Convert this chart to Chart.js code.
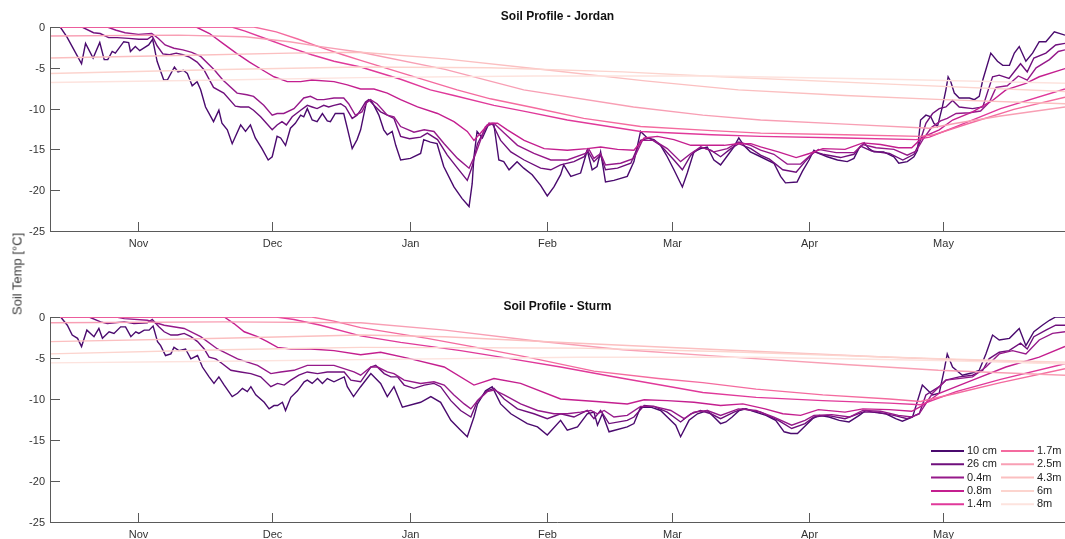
<!DOCTYPE html>
<html>
<head>
<meta charset="utf-8">
<script src="https://cdn.jsdelivr.net/npm/chart.js@4"></script>
<style>
  html, body { margin: 0; padding: 0; background: #fff; }
  #wrap { position: relative; width: 1065px; height: 539px; overflow: hidden; }
  canvas { position: absolute; left: 0; }
  #ylabel {
    position: absolute; left: 17px; top: 274px;
    transform: translate(-50%, -50%) rotate(-90deg);
    font: normal 13px "Liberation Sans", Arial, sans-serif; color: #3a3a3a; white-space: nowrap;
  }
</style>
</head>
<body>
<div id="wrap">
  <canvas id="top" width="1065" height="270" style="top:0"></canvas>
  <canvas id="bottom" width="1065" height="269" style="top:270px"></canvas>
  <div id="ylabel">Soil Temp [°C]</div>
</div>
<script>
// x values are days counted from 1 October (Nov 1 = 31)
const xMin = 11.1, xMax = 239.5;
const monthDays = [31, 61, 92, 123, 151, 182, 212];
const monthLabels = ['Nov', 'Dec', 'Jan', 'Feb', 'Mar', 'Apr', 'May'];
const yTicks = [0, -5, -10, -15, -20, -25];
const depths = ['10 cm', '26 cm', '0.4m', '0.8m', '1.4m', '1.7m', '2.5m', '4.3m', '6m', '8m'];
const colors = ['#4a0a6e', '#6f0f7c', '#96198a', '#c41f8f', '#e0399a', '#f46b9f', '#f89fb4', '#fbbfc0', '#fcd4ce', '#fde3de'];

// ---- Jordan ----
const jordan10cm = [[11.1,0],[13.4,0],[14.9,-1.2],[16.1,-2.4],[18.2,-4.5],[19.1,-2],[20.8,-3.8],[22.3,-1.9],[23.3,-4],[24.1,-4],[25.1,-3],[25.8,-3.2],[27.7,-1.8],[28.8,-1.9],[29.2,-3],[30.3,-2.4],[31.3,-2.9],[33.3,-2.2],[34.2,-1.5],[35.2,-4.2],[36.7,-6.5],[37.5,-6.5],[39.1,-4.9],[39.9,-5.5],[41.1,-5.3],[42,-5.7],[43.1,-7.2],[44.2,-6.7],[45,-7.7],[46.1,-9.8],[47.9,-11.6],[49.1,-10.2],[49.8,-11.8],[51,-12.6],[52.1,-14.3],[54,-12],[55.1,-12.8],[56.2,-12],[57.3,-13.6],[58.8,-14.9],[60.2,-16.3],[61.1,-15.9],[62.2,-13.4],[63,-13.6],[64.1,-14.5],[65.2,-12.4],[66.3,-11.8],[67.5,-10.8],[68.2,-11],[69,-10],[70.1,-11.4],[71.2,-11.6],[72.4,-10.6],[73.5,-11.5],[74.2,-11.6],[75.3,-10.6],[77.2,-10.6],[78,-12.4],[79.1,-14.9],[80.2,-13.8],[81,-12.6],[82.3,-9.2],[83.2,-8.9],[84,-9.6],[85.1,-10.8],[86.2,-12.6],[87,-13.2],[88.1,-12.8],[88.9,-14.5],[90,-16.3],[92.2,-16.1],[94.5,-15.5],[95.2,-13.8],[96.7,-14.1],[98.2,-14.3],[99.7,-17.1],[102,-19.6],[103.8,-21],[105.4,-22],[106.1,-19.2],[106.5,-15.9],[107.2,-12.8],[108.4,-13.6],[109.9,-11.8],[111,-12],[112.1,-16.3],[113.2,-16.5],[114.4,-17.5],[116.2,-16.5],[117.7,-17.3],[119.6,-18.1],[121.5,-19.4],[123,-20.7],[124.5,-19.6],[126,-18.1],[126.7,-16.9],[128.3,-18.3],[130.5,-17.9],[132,-15.1],[133.1,-17.5],[134.2,-17.1],[135,-15.3],[136.1,-19],[138,-18.8],[141,-18.3],[142.5,-16.5],[144,-12.8],[145.5,-13.6],[147,-13.8],[148.5,-14.5],[150,-15.9],[151.5,-17.5],[153.4,-19.6],[154.5,-17.9],[156,-15.3],[157.5,-14.9],[159,-14.7],[160.5,-16.3],[162,-16.9],[163.9,-15.5],[165,-14.7],[166.1,-13.6],[167.2,-14.5],[168.7,-15.3],[171,-15.9],[174,-16.7],[175.5,-18.3],[176.6,-19.1],[179.2,-19],[180.4,-17.7],[181.9,-16.3],[183,-15.1],[184.1,-15.5],[186,-15.9],[188.3,-16.3],[190.5,-16.5],[192,-16.1],[193.1,-14.9],[194.3,-14.2],[195.4,-14.9],[196.5,-15.3],[198.7,-15.3],[201,-15.9],[202.1,-16.7],[204,-16.5],[205.5,-15.9],[206.3,-15.1],[207,-11.4],[208.2,-10.8],[209.3,-11],[210,-11.8],[210.8,-12.2],[211.9,-9.8],[212.7,-7.7],[213.2,-6.1],[213.8,-6.7],[214.6,-8.1],[215.7,-8.7],[218,-8.7],[219.1,-8.9],[220.2,-8.5],[221,-6.5],[222.8,-3.2],[224.3,-4.2],[225.5,-4.7],[227,-4.7],[228.1,-3.2],[229.2,-2.4],[230.7,-4.2],[232.2,-3.2],[233.7,-1.8],[235.2,-1.8],[237.1,-0.6],[239.5,-1]];
const jordan26cm = [[11.1,0],[18.3,0],[20.9,-0.7],[22.4,-0.8],[24.3,-1.3],[26.2,-1.3],[28.8,-1.4],[31.1,-1.5],[33,-1.5],[34.1,-1.1],[35.2,-2.3],[36.5,-3.3],[38,-3.4],[39.5,-3.2],[41,-3.4],[42.5,-3.7],[44.2,-4.3],[45.7,-5.2],[47.9,-7.4],[50.2,-8.1],[52.8,-9.7],[54,-9.8],[55.8,-9.8],[56.9,-10.2],[58.5,-11],[61.1,-12.6],[62.2,-12],[63.3,-11.6],[64.3,-12],[65.6,-11],[67.5,-10.2],[69,-9.6],[70.1,-9.8],[71.2,-10],[72.7,-9.6],[73.8,-9.8],[75,-9.6],[76.5,-9.4],[77.6,-9.8],[79.1,-11.2],[80.2,-10.8],[81,-10.2],[82.1,-9.2],[82.8,-8.9],[84,-9.6],[85.5,-10.4],[87,-10.8],[88.5,-11.2],[90,-13.4],[92,-13.7],[94.5,-13.5],[96,-13],[98.3,-13.8],[100.5,-15.7],[102.8,-17.3],[105,-18.8],[106.1,-17.1],[107.3,-14.3],[109.5,-12],[110.6,-11.8],[112.5,-13.9],[114.8,-15.3],[117.8,-16.3],[121.5,-17.3],[123.8,-17.5],[126,-16.9],[129,-16.5],[131.3,-15.9],[132,-15.1],[133.5,-16.5],[135,-15.7],[136.1,-17.5],[138.8,-17.3],[141.8,-16.7],[144,-13.9],[145.9,-13.6],[148.5,-14.5],[151.5,-16.3],[153.4,-17.5],[155.3,-15.7],[157.5,-14.7],[159.8,-15.1],[162,-15.9],[164.3,-14.9],[166.1,-14.3],[168.8,-14.9],[171,-15.7],[173,-16.2],[176,-17.5],[179,-17.8],[181,-16.5],[183,-15.3],[185,-15.6],[189,-16],[192,-15.6],[193.5,-14.6],[196,-15.2],[200,-15.5],[203,-16.3],[205.5,-15.6],[206.7,-14.3],[208.2,-11.8],[209.7,-10.6],[211.2,-10],[212.7,-9.8],[214.2,-9],[215.7,-9.8],[218.7,-10],[221,-9.8],[222,-8.1],[223.2,-6.1],[224.7,-5.9],[226.9,-6.3],[229.5,-4.5],[231,-5.5],[232.5,-3.8],[235.2,-3.2],[237.4,-2.2],[239.5,-2]];
const jordan04m = [[11.1,0],[24,0],[26,-0.4],[28,-0.7],[31,-0.9],[34,-0.8],[35.5,-1.4],[37,-2.2],[39,-2.6],[41,-2.8],[43,-3.1],[45,-3.6],[48,-5.2],[50,-6.5],[53.2,-8.1],[55.4,-8.3],[56.9,-8.5],[59.2,-9.6],[61.1,-10.8],[62.2,-10.6],[63.7,-10.6],[66,-10],[68.2,-8.7],[69.7,-8.5],[71.2,-8.9],[72.7,-8.9],[75,-8.7],[77.2,-8.7],[78.3,-9.4],[79.8,-10.8],[81.3,-10.4],[82.3,-9.3],[83.2,-8.9],[84.7,-9.4],[87,-10.8],[88.5,-11],[90,-12.2],[93,-12.9],[95.3,-12.6],[97.5,-12.8],[99.8,-14.3],[102.8,-16.1],[105.4,-17.3],[106.9,-15.5],[109.1,-12.2],[111,-11.8],[113.3,-13],[116.3,-14.5],[120,-15.5],[123.8,-16.3],[127.5,-16.3],[131.6,-15.5],[132.4,-15],[133.5,-16.1],[135,-15.5],[136.1,-16.9],[139.5,-16.7],[142.5,-16.1],[144.4,-13.9],[147,-13.9],[150,-14.9],[153,-16.5],[155.3,-15.5],[157.5,-14.7],[160.5,-15.3],[163.5,-14.9],[166.1,-14.1],[168.8,-14.5],[171,-15.1],[174,-15.6],[177,-16.8],[180,-16.8],[182,-15.8],[184,-15],[188,-15.4],[192,-15.4],[194,-14.4],[197,-14.8],[201,-15],[204,-15.7],[206,-15.2],[207.5,-13.8],[209.5,-12.3],[211.5,-11.5],[213,-11.2],[215,-10.6],[218,-10.5],[220.5,-10.3],[222.5,-9.2],[224,-7.4],[226.5,-7.2],[229,-6],[231,-6.5],[233,-5],[236,-4],[238,-3],[239.5,-2.8]];
const jordan08m = [[11.1,0],[44,0],[47,-0.8],[50,-2],[53,-3.2],[56,-4.3],[59,-5.3],[61.5,-6.1],[64.5,-6.7],[67.5,-6.7],[70,-6.5],[75,-6.7],[78,-7.1],[81,-7.6],[84,-7.6],[87,-8.1],[90,-8.9],[93.8,-9.8],[98.3,-10.6],[102,-11.6],[105,-12.8],[106.5,-13.9],[108,-13],[109.9,-11.8],[111.8,-11.8],[114,-12.6],[117.8,-13.9],[122.3,-14.9],[127.5,-15.1],[132,-14.9],[135,-14.7],[138.8,-15],[142.5,-15.1],[144.8,-13.6],[147.8,-13.4],[151.5,-13.8],[155.3,-14.5],[159,-14.5],[162.8,-14.5],[165.8,-14.3],[168.8,-14.3],[171,-14.7],[175,-15.3],[179,-16],[182,-15.5],[185,-14.9],[190,-15],[194,-14.2],[198,-14.4],[202,-14.8],[205,-14.8],[207.5,-13.5],[211.2,-12.6],[214.2,-11.4],[218.7,-10.4],[223.2,-9],[226.2,-7.7],[230.7,-6.9],[233.7,-6.1],[239.5,-5.1]];
const jordan14m = [[11.1,0],[52,0],[55,-0.5],[60,-1.5],[65,-2.5],[70,-3.4],[75,-4.2],[81,-4.9],[90,-6.4],[96.7,-7.7],[102,-8.4],[111,-9.6],[118.5,-10.4],[127.5,-11.4],[144,-12.8],[160,-13.2],[171,-13.4],[190,-13.6],[206,-13.8],[209,-13.5],[215,-12.2],[225,-10],[239.5,-7.6]];
const jordan17m = [[11.1,0],[57,0],[62,-0.6],[67,-1.5],[72,-2.5],[77,-3.4],[81,-4.1],[90,-5.6],[102.7,-7.7],[110.2,-8.8],[120,-9.9],[131.2,-11.2],[144,-12.2],[160,-12.7],[171,-13],[190,-13.2],[207,-13.4],[210,-13.2],[218,-11.8],[228,-10.1],[239.5,-8.6]];
const jordan25m = [[11.1,-1.1],[40,-1],[55,-1.2],[65,-1.8],[72,-2.4],[81,-3.1],[100,-5.2],[117.7,-7.7],[142.4,-9.8],[158,-10.8],[171,-11.4],[190,-11.9],[209,-12.4],[215,-11.8],[225,-10.9],[239.5,-9.8]];
const jordan43m = [[11.1,-3.8],[40,-3.5],[65,-3.2],[81,-3.1],[100,-3.9],[122,-5.2],[145,-6.6],[166,-7.7],[190,-8.4],[212,-8.9],[239.5,-9.4]];
const jordan6m = [[11.1,-5.7],[50,-5.2],[81,-4.9],[110,-5],[140,-5.5],[162,-6.1],[200,-7],[239.5,-7.9]];
const jordan8m = [[11.1,-6.8],[50,-6.5],[81,-6.2],[120,-6],[160,-6],[200,-6.4],[239.5,-6.9]];

// ---- Sturm ----
const sturm10cm = [[11.1,0],[13.5,0],[15,-1],[16.1,-2.2],[17.3,-2.6],[18.2,-3.6],[19.4,-1.6],[21,-2.4],[22.1,-1.4],[22.9,-2.6],[24.4,-1.8],[25.5,-2],[27,-1.2],[28.1,-1.2],[29.3,-2.4],[30.4,-1.8],[31.1,-2],[32.3,-1.6],[33.4,-1.6],[34.3,-1.1],[35.3,-3],[36,-3.5],[37.1,-4.7],[38.3,-4.5],[39,-3.7],[40.1,-4.1],[41.6,-3.9],[42.8,-5.1],[44.3,-4.7],[45.4,-6.1],[46.9,-7.3],[48,-8.1],[49.1,-7.3],[50.3,-8.3],[52.1,-9.7],[53.3,-9.3],[54.4,-8.7],[55.5,-9.1],[56.3,-8.5],[57.4,-9.5],[59.3,-10.4],[60.4,-11.2],[61.5,-10.8],[62.3,-10.8],[63.4,-10.4],[64.1,-11.4],[65.3,-9.8],[66.8,-9],[68.3,-7.9],[69,-7.7],[70.1,-8.1],[71.3,-7.5],[72.4,-8.1],[73.5,-7.5],[75,-7.9],[77.3,-7.3],[78,-8.5],[79.4,-9.7],[81,-8.5],[83.3,-6.9],[85.5,-8.1],[87,-9.7],[88.5,-8.5],[90.4,-11],[94.5,-10.4],[96.8,-9.7],[99,-10.4],[101.3,-12.6],[103.5,-13.8],[105,-14.6],[106.5,-12.2],[107.3,-10.6],[109.1,-9],[110.6,-8.5],[112.5,-10.6],[114.8,-11.8],[118.5,-13],[120.8,-13.4],[123,-14.4],[126,-12.6],[127.5,-13.8],[129.8,-13.4],[132,-11.8],[133.5,-11.6],[134.3,-13.2],[135.4,-11.8],[136.9,-14],[141,-13.4],[142.5,-13],[144,-11],[146.3,-11],[148.5,-11.4],[150,-12.2],[151.9,-13.2],[153,-14.6],[154.9,-12.6],[156.8,-11.8],[159,-11.4],[160.5,-12.2],[162,-13],[163.2,-12.8],[164.6,-12.2],[166.2,-11.4],[167.7,-11.2],[169.9,-11.6],[172.2,-12],[174.4,-12.6],[176.3,-14],[177.8,-14.2],[179.3,-14.2],[181.2,-13.2],[182.7,-12.4],[184.2,-12],[186.4,-12.2],[188.7,-12.6],[190.9,-12.8],[193.2,-12],[194.7,-11.4],[196.2,-11.6],[199.2,-11.8],[201.4,-12.4],[202.9,-12.7],[205.2,-12.2],[207.4,-8.3],[209.7,-9.5],[211.2,-9.3],[212.3,-6.5],[213,-4.5],[214.2,-6.1],[216.4,-7.1],[218.7,-6.8],[220.2,-6.5],[221.7,-4.5],[223.2,-2.2],[224.7,-2.8],[227,-2.6],[229.2,-1.4],[230.7,-3.5],[232.5,-1.8],[234.4,-1],[236,-0.4],[237.4,0],[239.5,0]];
const sturm26cm = [[11.1,0],[19.9,0],[22.5,-0.6],[24,-0.8],[27.8,-0.6],[30,-0.8],[33,-0.7],[34.1,-0.3],[35.6,-1.2],[36.8,-1.8],[38.3,-2.2],[39.8,-2.2],[41.3,-2],[42.8,-2.4],[44.3,-3],[45.8,-3.9],[46.9,-4.9],[48.4,-5.1],[49.9,-5.7],[51.8,-6.5],[54,-6.7],[56.3,-6.9],[58.5,-7.3],[60.8,-8.5],[62.3,-8.1],[63.8,-8.3],[65.3,-7.7],[67.1,-7.1],[69,-6.7],[71.3,-6.9],[73.5,-6.7],[77.3,-6.7],[78.8,-7.7],[81,-7.9],[83.3,-6.1],[84.4,-5.9],[86.3,-6.9],[87.8,-7.3],[89.3,-7.3],[90.8,-8.3],[93,-8.7],[95.3,-8.3],[97.5,-8.1],[99,-8.5],[101.3,-10.2],[103.5,-11.4],[105.8,-12.2],[107.3,-10.2],[109.5,-9],[111,-8.7],[113.3,-10],[116.3,-11.2],[120,-11.8],[123,-12.4],[126,-11.8],[129,-12.2],[132,-11.4],[133.5,-12.4],[135,-11.4],[136.9,-13],[141,-12.6],[142.5,-12.2],[144.8,-10.8],[147,-10.9],[150,-11.6],[153,-12.8],[155.3,-11.8],[157.5,-11.4],[159.8,-11.8],[162,-12.4],[165,-11.6],[167,-11.2],[171,-11.6],[175,-12.6],[178,-13.6],[181,-13],[183,-12.2],[186,-12],[190,-12.4],[194,-11.6],[197,-11.6],[201,-12],[204,-12.4],[206.7,-11.8],[208.2,-9.5],[211.2,-8.5],[212.7,-7.7],[215.7,-7.3],[218.7,-7.1],[221,-6.5],[222.4,-5.1],[224.7,-4.3],[226.9,-4.1],[229.5,-3.2],[231,-3.9],[232.5,-2.4],[235.2,-1.6],[237.4,-1],[239.5,-1]];
const sturm04m = [[11.1,0],[26,0],[27.8,-0.2],[33,-0.4],[36.8,-1],[41.3,-1.4],[45,-2.4],[48.8,-3.9],[53.3,-5.1],[57.8,-5.9],[60.8,-6.9],[63,-6.7],[66,-6.5],[69,-5.9],[75,-5.9],[79.5,-6.7],[81,-7.1],[83.3,-6.1],[84.8,-6.1],[87,-6.7],[88.5,-6.9],[90.8,-7.7],[94.5,-8.1],[97.5,-7.9],[99.8,-8.3],[102,-9.5],[104.3,-10.6],[105.8,-11.2],[107.3,-10.2],[109.5,-9.1],[111,-8.9],[113.3,-9.5],[117,-10.6],[120.8,-11.4],[124.5,-11.8],[127.5,-11.8],[130.5,-11.6],[132.8,-11.4],[134.3,-11.8],[135.8,-11.4],[138,-12.2],[141,-12],[144,-10.9],[147,-10.9],[150.8,-11.4],[153.8,-12.4],[156,-11.6],[159,-11.4],[162,-12],[166,-11.2],[170,-11.4],[174,-12.2],[178,-13.2],[181,-12.6],[183,-12],[187,-11.9],[191,-12.2],[194,-11.4],[198,-11.5],[202,-12],[205,-12.2],[206.7,-11.8],[209.7,-9.3],[212.7,-7.7],[218.7,-7.3],[221.7,-6.1],[224.7,-4.5],[227.7,-4.1],[230.7,-4.5],[233.7,-2.8],[236.7,-2],[239.5,-1.8]];
const sturm08m = [[11.1,0],[50.3,0],[52.5,-0.8],[54.8,-1.8],[57.8,-2.4],[60,-3],[62.3,-3.7],[65.3,-3.9],[69.8,-3.9],[75,-4.1],[81,-4.6],[85.5,-4.3],[92.3,-5.1],[99.8,-6.1],[106.5,-8.3],[111,-7.5],[117,-8.1],[126,-10],[134,-10.3],[141,-10.6],[144.8,-10.1],[150,-10.2],[156,-10.4],[162,-10.8],[167,-10.6],[172,-11.2],[176,-11.8],[180,-12],[184,-11.3],[190,-11.6],[194,-11.2],[200,-11.3],[205,-11.5],[207.4,-10.8],[211.2,-9.3],[218.7,-7.7],[226.2,-6.1],[233.7,-4.9],[239.5,-3.6]];
const sturm14m = [[11.1,0],[62,0],[66,-0.3],[72,-1],[81,-2.3],[90,-3.1],[103.5,-4.1],[115,-5.1],[126,-6.1],[137,-7.2],[148.5,-8.3],[158,-9.2],[170,-9.8],[185,-10.2],[200,-10.5],[207,-10.7],[215,-9.1],[225,-7.6],[239.5,-5.7]];
const sturm17m = [[11.1,0],[70,0],[75,-0.5],[81,-1.3],[96,-2.6],[107,-3.7],[118.5,-4.9],[133.5,-6.6],[148,-7.5],[158,-8],[170,-8.8],[185,-9.5],[200,-10],[207,-10.3],[215,-9.3],[225,-8],[239.5,-6.3]];
const sturm25m = [[11.1,-0.7],[50,-0.6],[81,-0.7],[100,-1.6],[120,-2.9],[140,-4],[162,-4.8],[190,-5.8],[211,-6.5],[239.5,-7.1]];
const sturm43m = [[11.1,-3],[50,-2.6],[81,-2.2],[100,-2.4],[130,-3.2],[162,-4],[200,-4.9],[239.5,-5.7]];
const sturm6m = [[11.1,-4.5],[50,-4],[81,-3.7],[130,-3.8],[162,-4.2],[211,-5.1],[239.5,-5.5]];
const sturm8m = [[11.1,-5.6],[50,-5.4],[81,-5.2],[130,-4.9],[170,-4.9],[211,-5.3],[239.5,-5.7]];

const jordanSeries = [jordan10cm, jordan26cm, jordan04m, jordan08m, jordan14m, jordan17m, jordan25m, jordan43m, jordan6m, jordan8m];
const sturmSeries = [sturm10cm, sturm26cm, sturm04m, sturm08m, sturm14m, sturm17m, sturm25m, sturm43m, sturm6m, sturm8m];

const FONT = '"Liberation Sans", Arial, Helvetica, sans-serif';

// axes drawn MATLAB style: left + bottom lines, ticks pointing inward
const matlabAxes = {
  id: 'matlabAxes',
  afterDraw(chart, args, opts) {
    const ctx = chart.ctx, a = chart.chartArea;
    const xs = chart.scales.x, ys = chart.scales.y;
    ctx.save();
    ctx.strokeStyle = '#5a5a5a';
    ctx.lineWidth = 1;
    ctx.beginPath();
    ctx.moveTo(a.left + 0.5, a.top);
    ctx.lineTo(a.left + 0.5, a.bottom + 0.5);
    ctx.lineTo(a.right, a.bottom + 0.5);
    ctx.stroke();

    ctx.fillStyle = '#333';
    ctx.font = '11px ' + FONT;
    ctx.textAlign = 'right';
    ctx.textBaseline = 'middle';
    yTicks.forEach(v => {
      const py = Math.round(ys.getPixelForValue(v)) + 0.5;
      ctx.beginPath();
      ctx.moveTo(a.left, py);
      ctx.lineTo(a.left + 10, py);
      ctx.stroke();
      ctx.fillText(String(v), a.left - 5, py);
    });

    ctx.textAlign = 'center';
    ctx.textBaseline = 'top';
    monthDays.forEach((d, i) => {
      const px = Math.round(xs.getPixelForValue(d)) + 0.5;
      ctx.beginPath();
      ctx.moveTo(px, a.bottom);
      ctx.lineTo(px, a.bottom - 9);
      ctx.stroke();
      ctx.fillText(monthLabels[i], px, a.bottom + 7);
    });

    ctx.fillStyle = '#111';
    ctx.font = 'bold 12px ' + FONT;
    ctx.textBaseline = 'middle';
    ctx.fillText(opts.title, (a.left + a.right) / 2, a.top - 10);

    if (opts.legend) {
      ctx.font = '11px ' + FONT;
      ctx.textAlign = 'left';
      ctx.lineWidth = 2;
      depths.forEach((name, i) => {
        const col = Math.floor(i / 5), row = i % 5;
        const x0 = col === 0 ? 931 : 1001;
        const yy = 181 + row * 13.3;
        ctx.strokeStyle = colors[i];
        ctx.beginPath();
        ctx.moveTo(x0, yy);
        ctx.lineTo(x0 + 33, yy);
        ctx.stroke();
        ctx.fillStyle = '#222';
        ctx.fillText(name, x0 + 36, yy);
      });
    }
    ctx.restore();
  }
};

function makeChart(id, series, title, pad, legend) {
  return new Chart(document.getElementById(id), {
    type: 'line',
    data: {
      datasets: series.map((s, i) => ({
        label: depths[i],
        data: s.map(p => ({ x: p[0], y: p[1] })),
        borderColor: colors[i],
        borderWidth: 1.4,
        pointRadius: 0,
        fill: false,
        tension: 0,
        order: 9 - i
      }))
    },
    options: {
      responsive: false,
      devicePixelRatio: 1,
      animation: false,
      events: [],
      layout: { padding: pad },
      scales: {
        x: { type: 'linear', min: xMin, max: xMax, display: false },
        y: { type: 'linear', min: -25, max: 0, display: false }
      },
      plugins: {
        legend: { display: false },
        tooltip: { enabled: false },
        matlabAxes: { title: title, legend: legend }
      }
    },
    plugins: [matlabAxes]
  });
}

makeChart('top', jordanSeries, 'Soil Profile - Jordan', { left: 50, top: 27, right: 0, bottom: 39 }, false);
makeChart('bottom', sturmSeries, 'Soil Profile - Sturm', { left: 50, top: 47, right: 0, bottom: 17 }, true);
</script>
</body>
</html>
